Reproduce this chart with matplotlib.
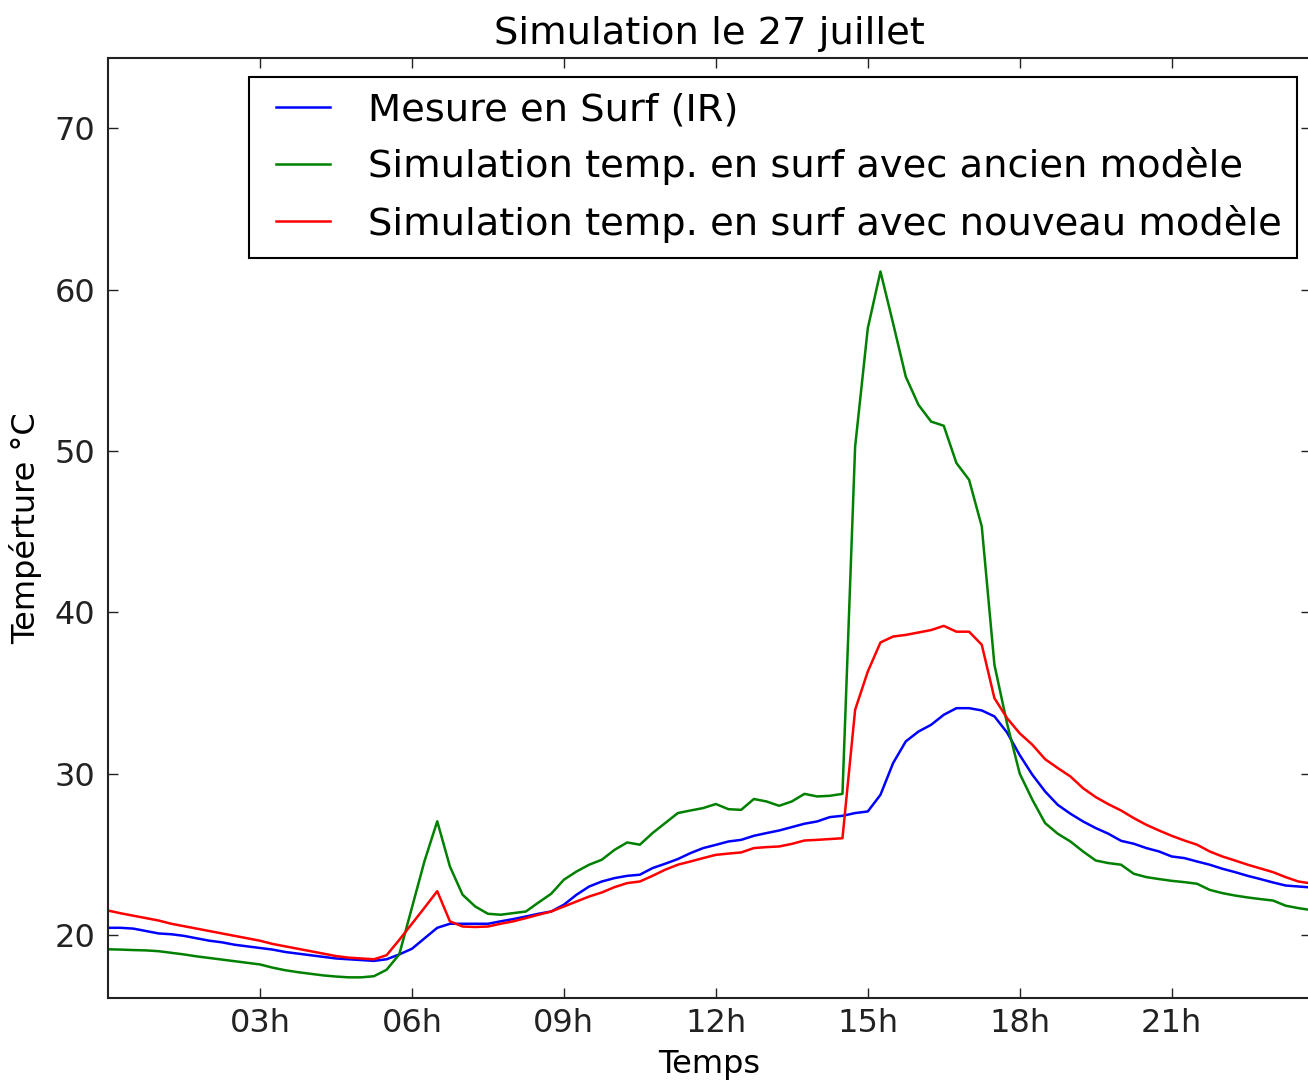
import numpy as np
import pandas as pd
import matplotlib
matplotlib.use("Agg")
import matplotlib.pyplot as plt
import matplotlib.dates as mdates

# pas de 15 min sur la journee du 27 juillet
temps = pd.date_range("2015-07-27 00:00", periods=96, freq="15min")

mesure_ir = [
    20.45, 20.45, 20.40, 20.25, 20.10, 20.05, 19.95, 19.80,
    19.65, 19.55, 19.40, 19.30, 19.20, 19.10, 18.95, 18.85,
    18.75, 18.65, 18.55, 18.50, 18.45, 18.40, 18.50, 18.80,
    19.15, 19.80, 20.45, 20.70, 20.70, 20.70, 20.70, 20.85,
    20.99, 21.15, 21.32, 21.46, 21.88, 22.50, 23.01, 23.32,
    23.53, 23.67, 23.74, 24.15, 24.42, 24.71, 25.08, 25.39,
    25.59, 25.80, 25.90, 26.15, 26.32, 26.48, 26.69, 26.90,
    27.04, 27.31, 27.39, 27.56, 27.66, 28.69, 30.66, 32.00,
    32.61, 33.03, 33.65, 34.06, 34.06, 33.92, 33.55, 32.55,
    31.15, 29.93, 28.90, 28.07, 27.52, 27.04, 26.63, 26.28,
    25.84, 25.66, 25.39, 25.18, 24.87, 24.77, 24.56, 24.36,
    24.11, 23.90, 23.67, 23.47, 23.26, 23.07, 23.01, 22.95,
]

ancien_modele = [
    19.12, 19.10, 19.07, 19.05, 19.00, 18.90, 18.80, 18.68,
    18.58, 18.48, 18.38, 18.28, 18.18, 17.98, 17.82, 17.70,
    17.60, 17.50, 17.43, 17.38, 17.38, 17.45, 17.85, 18.80,
    21.70, 24.60, 27.05, 24.25, 22.50, 21.77, 21.32, 21.26,
    21.36, 21.46, 22.02, 22.56, 23.43, 23.94, 24.36, 24.67,
    25.28, 25.74, 25.60, 26.32, 26.94, 27.56, 27.72, 27.87,
    28.12, 27.80, 27.76, 28.43, 28.28, 28.01, 28.28, 28.75,
    28.59, 28.63, 28.75, 50.27, 57.60, 61.12, 57.90, 54.60,
    52.86, 51.82, 51.56, 49.25, 48.21, 45.32, 36.75, 33.10,
    30.00, 28.38, 26.94, 26.28, 25.80, 25.18, 24.62, 24.46,
    24.36, 23.80, 23.59, 23.47, 23.36, 23.28, 23.18, 22.80,
    22.60, 22.45, 22.33, 22.23, 22.14, 21.82, 21.67, 21.55,
]

nouveau_modele = [
    21.52, 21.35, 21.20, 21.05, 20.90, 20.70, 20.55, 20.40,
    20.25, 20.10, 19.95, 19.80, 19.65, 19.45, 19.30, 19.15,
    19.00, 18.85, 18.70, 18.60, 18.55, 18.50, 18.75, 19.70,
    20.70, 21.70, 22.72, 20.85, 20.53, 20.50, 20.53, 20.70,
    20.85, 21.05, 21.26, 21.46, 21.77, 22.08, 22.39, 22.64,
    22.97, 23.22, 23.32, 23.67, 24.05, 24.36, 24.56, 24.77,
    24.97, 25.05, 25.12, 25.39, 25.45, 25.49, 25.65, 25.86,
    25.90, 25.95, 26.00, 33.96, 36.33, 38.13, 38.50, 38.60,
    38.75, 38.90, 39.16, 38.80, 38.80, 37.99, 34.68, 33.44,
    32.50, 31.79, 30.90, 30.35, 29.83, 29.10, 28.55, 28.11,
    27.72, 27.25, 26.83, 26.48, 26.15, 25.86, 25.60, 25.18,
    24.87, 24.62, 24.36, 24.13, 23.90, 23.59, 23.32, 23.20,
]

labels = [
    "Mesure en Surf (IR)",
    "Simulation temp. en surf avec ancien modèle",
    "Simulation temp. en surf avec nouveau modèle",
]

plt.rcParams["font.family"] = ["DejaVu Sans"]
plt.rcParams["font.size"] = 23

fig = plt.figure(figsize=(13.08, 10.8), dpi=100)
ax = fig.add_axes([108 / 1308, 1 - 998 / 1080, (1311 - 108) / 1308, (998 - 58) / 1080])

ax.plot(temps, mesure_ir, color="#0000ff", lw=1.8, label=labels[0])
ax.plot(temps, ancien_modele, color="#008000", lw=1.8, label=labels[1])
ax.plot(temps, nouveau_modele, color="#ff0000", lw=1.8, label=labels[2])

ax.set_xlim(temps[0], temps[-1])
ax.set_ylim(16.1, 74.35)
ax.set_yticks([20, 30, 40, 50, 60, 70])
ax.xaxis.set_major_locator(mdates.HourLocator(byhour=range(3, 24, 3)))
ax.xaxis.set_major_formatter(mdates.DateFormatter("%Hh"))

ax.tick_params(direction="in", length=7, width=1, top=True, right=True, colors="#222222")
ax.tick_params(axis="x", pad=7.5)
ax.tick_params(axis="y", pad=9)
for s in ax.spines.values():
    s.set_linewidth(1.5)
    s.set_color("#222222")

ax.set_xlabel("Temps", labelpad=7)
ax.set_ylabel("Tempérture °C", labelpad=9)
ax.set_title("Simulation le 27 juillet", fontsize=27.6, pad=10)

leg = ax.legend(loc="upper right", bbox_to_anchor=(1297 / 1308, 1 - 77 / 1080),
                bbox_transform=fig.transFigure, borderaxespad=0, fontsize=27.6,
                numpoints=2, handlelength=2.0, handletextpad=0.7, labelspacing=0.5,
                borderpad=0.4, fancybox=False, framealpha=1)
leg.get_frame().set_edgecolor("black")
leg.get_frame().set_linewidth(1.5)

fig.savefig("out.png", dpi=100)
